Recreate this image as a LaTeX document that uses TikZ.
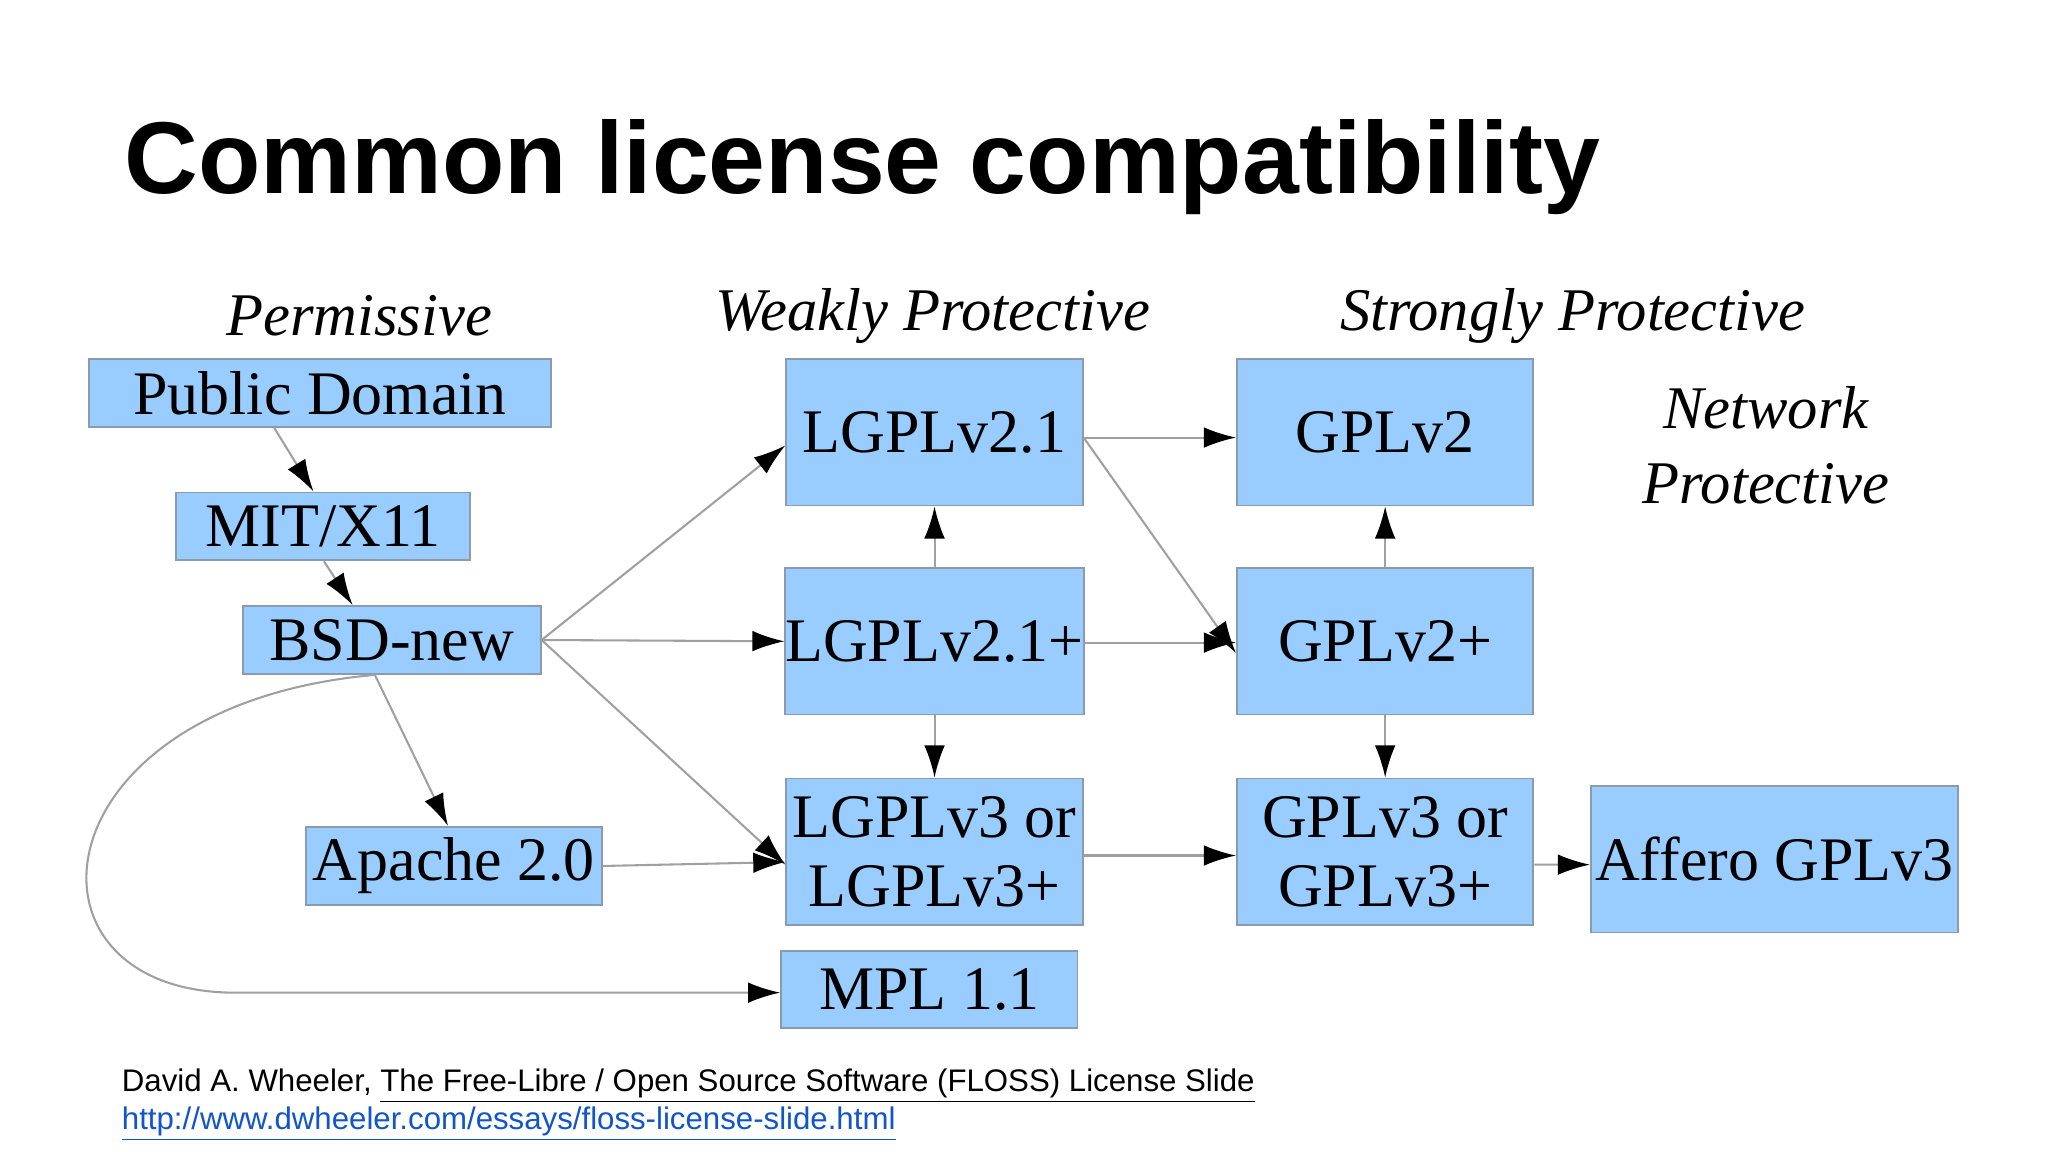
\documentclass[tikz,border=0pt]{standalone}
\usepackage{fontspec}
\setmainfont{Liberation Serif}
\newfontfamily\sansf{Liberation Sans}
\usetikzlibrary{arrows.meta}
\definecolor{boxfill}{HTML}{99CCFF}
\definecolor{boxline}{HTML}{8A9BB0}
\definecolor{edgecol}{HTML}{A0A0A0}
\definecolor{linkblue}{HTML}{1155CC}
\begin{document}
\begin{tikzpicture}[x=0.02cm,y=-0.02cm,
  box/.style={draw=boxline,line width=0.8pt,fill=boxfill,inner sep=0pt,align=center,font=\fontsize{27}{30}\selectfont},
  big/.style={box,minimum width=4.54cm,minimum height=2.24cm},
  hdr/.style={font=\fontsize{26.4}{30}\selectfont\itshape,align=center},
  edge/.style={draw=edgecol,line width=0.9pt,-{Latex[black,length=14pt,width=9pt]}}]
\useasboundingbox (0,0) rectangle (1568,882);
\fill[white] (0,0) rectangle (1568,882);
\node[anchor=base west,inner sep=0pt,font=\sansf\bfseries\fontsize{44.5}{50}\selectfont] (title) at (95,148) {Common license compatibility};
\node[hdr] (h1) at (275,242) {Permissive};
\node[hdr] (h2) at (714,242) {Weakly Protective};
\node[hdr] (h3) at (1204,242) {Strongly Protective};
\node[hdr] (h4) at (1352,341) {Network\\[3pt]Protective};
\node[box,minimum width=7.08cm,minimum height=1.04cm] (pd) at (245,301) {Public Domain};
\node[box,minimum width=4.5cm,minimum height=1.04cm] (mit) at (247.5,403) {MIT/X11};
\node[box,minimum width=4.56cm,minimum height=1.04cm] (bsd) at (300,490) {BSD-new};
\node[box,minimum width=4.54cm,minimum height=1.2cm] (ap) at (347.5,663) {Apache 2.0};
\node[box,minimum width=4.54cm,minimum height=1.18cm] (mpl) at (711.5,757.5) {MPL 1.1};
\node[big] (l21) at (715.5,331) {LGPLv2.1};
\node[big] (l21p) at (715.5,491) {LGPLv2.1+};
\node[big] (l3) at (715.5,652) {LGPLv3 or\\LGPLv3+};
\node[big] (g2) at (1060.5,331) {GPLv2};
\node[big] (g2p) at (1060.5,491) {GPLv2+};
\node[big] (g3) at (1060.5,652) {GPLv3 or\\GPLv3+};
\node[box,minimum width=5.62cm,minimum height=2.24cm] (ag) at (1358.5,658) {Affero GPLv3};
\draw[edge] ([xshift=-0.7cm]pd.south) -- ([xshift=-0.15cm]mit.north);
\draw[edge] ([xshift=0.01cm]mit.south) -- ([xshift=-0.6cm]bsd.north);
\draw[edge] (bsd.east) -- ([yshift=-0.2cm]l21.west);
\draw[edge] (bsd.east) -- (l21p.west);
\draw[edge] (bsd.east) -- ([yshift=-0.2cm]l3.west);
\draw[edge] ([xshift=-0.26cm]bsd.south) -- ([xshift=-0.09cm]ap.north);
\draw[edge] ([xshift=-0.26cm]bsd.south) .. controls (25,540) and (5,760) .. (180,760) -- (mpl.west|-180,760);
\draw[edge] (ap.east) -- ([yshift=-0.16cm]l3.west);
\draw[edge] (l21p.north) -- (l21.south);
\draw[edge] (l21p.south) -- (l3.north);
\draw[edge] ([yshift=-0.08cm]l21.east) -- ([yshift=-0.08cm]g2.west);
\draw[edge] ([yshift=-0.08cm]l21.east) -- ([yshift=-0.18cm]g2p.west);
\draw[edge] ([yshift=-0.02cm]l21p.east) -- ([yshift=-0.02cm]g2p.west);
\draw[edge] (g2p.north) -- (g2.south);
\draw[edge] (g2p.south) -- (g3.north);
\draw[edge] ([yshift=-0.06cm]l3.east) -- ([yshift=-0.06cm]g3.west);
\draw[edge] ([yshift=-0.2cm]g3.east) -- ([yshift=-0.08cm]ag.west);
\node[anchor=base west,inner sep=0pt,font=\sansf\fontsize{13.6}{16}\selectfont] (f1) at (93,836) {David A. Wheeler, \underline{The Free-Libre / Open Source Software (FLOSS) License Slide}};
\node[anchor=base west,inner sep=0pt,font=\sansf\fontsize{13.6}{16}\selectfont,text=linkblue] (f2) at (93,865) {\underline{http://www.dwheeler.com/essays/floss-license-slide.html}};
\end{tikzpicture}
\end{document}
